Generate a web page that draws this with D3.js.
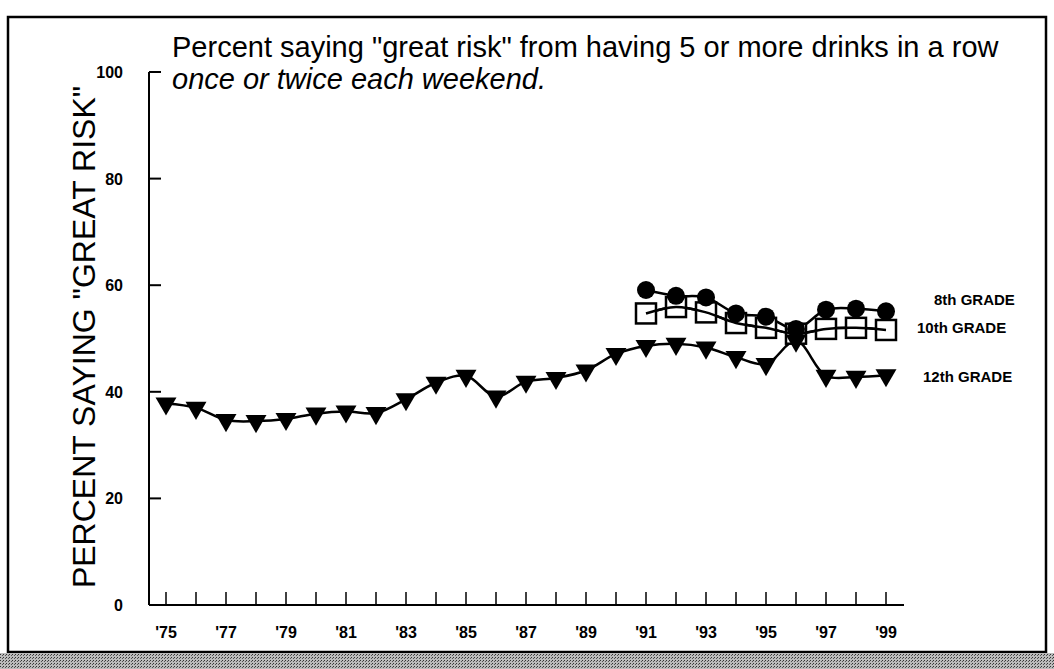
<!DOCTYPE html>
<html><head><meta charset="utf-8">
<script src="https://cdn.jsdelivr.net/npm/d3@7"></script>
<style>body{margin:0;background:#fff}svg{display:block}</style>
</head><body>
<script>
const years12 = d3.range(1975, 2000);
const grade12 = [37.8,37.0,34.7,34.5,34.9,35.9,36.3,36.0,38.6,41.7,43.0,39.1,41.9,42.6,44.0,47.1,48.6,49.0,48.3,46.5,45.2,49.6,43.0,42.8,43.1];
const yearsLate = d3.range(1991, 2000);
const grade8 = [59.1,58.0,57.7,54.7,54.1,51.8,55.4,55.6,55.1];
const grade10 = [54.7,55.9,54.9,52.9,52.0,50.9,51.8,52.0,51.6];
const yTicks = [0,20,40,60,80,100];
const xLabelYears = [1975,1977,1979,1981,1983,1985,1987,1989,1991,1993,1995,1997,1999];
const seriesLabels = ["8th GRADE","10th GRADE","12th GRADE"];
const titleLine1 = 'Percent saying "great risk" from having 5 or more drinks in a row';
const titleLine2 = 'once or twice each weekend.';
const yTitle = 'PERCENT SAYING "GREAT RISK"';

const W=1054,H=669;
const svg=d3.select("body").append("svg").attr("width",W).attr("height",H);
const font="'Liberation Sans', Arial, Helvetica, sans-serif";

// frame
svg.append("rect").attr("x",8).attr("y",17).attr("width",1038).attr("height",635)
  .attr("fill","none").attr("stroke","#000").attr("stroke-width",2.5);
const defs=svg.append("defs");
const pat=defs.append("pattern").attr("id","dith").attr("width",3).attr("height",3).attr("patternUnits","userSpaceOnUse");
pat.append("rect").attr("width",3).attr("height",3).attr("fill","#bbb");
pat.append("rect").attr("width",1).attr("height",1).attr("fill","#333");
pat.append("rect").attr("x",2).attr("y",1).attr("width",1).attr("height",1).attr("fill","#555");
svg.append("rect").attr("x",0).attr("y",653).attr("width",W).attr("height",16).attr("fill","url(#dith)");

const x=d3.scaleLinear().domain([1975,1999]).range([166,886]);
const y=d3.scaleLinear().domain([0,100]).range([605,72]);

// axes
const ax=svg.append("g").attr("stroke","#000").attr("stroke-width",2);
ax.append("line").attr("x1",149).attr("x2",149).attr("y1",y(100)).attr("y2",y(0));
ax.append("line").attr("x1",149).attr("x2",904).attr("y1",y(0)).attr("y2",y(0));
yTicks.forEach(t=>{
  ax.append("line").attr("x1",149).attr("x2",161).attr("y1",y(t)).attr("y2",y(t));
});
years12.forEach(t=>{
  ax.append("line").attr("x1",x(t)).attr("x2",x(t)).attr("y1",y(0)).attr("y2",y(0)-13).attr("stroke-width",1.5);
});
svg.selectAll(".yl").data(yTicks).enter().append("text")
  .attr("x",123).attr("y",d=>y(d)+6).attr("text-anchor","end")
  .attr("font-family",font).attr("font-size",16).attr("font-weight","bold").text(d=>d);
svg.selectAll(".xl").data(xLabelYears).enter().append("text")
  .attr("x",d=>x(d)).attr("y",638).attr("text-anchor","middle")
  .attr("font-family",font).attr("font-size",16).attr("font-weight","bold").text(d=>"'"+String(d).slice(2));

// titles
svg.append("text").attr("x",172).attr("y",57).attr("font-family",font).attr("font-size",29).text(titleLine1);
svg.append("text").attr("x",172).attr("y",89).attr("font-family",font).attr("font-size",29).attr("font-style","italic").text(titleLine2);
svg.append("text").attr("transform","translate(95,337) rotate(-90)").attr("text-anchor","middle")
  .attr("font-family",font).attr("font-size",32).text(yTitle);

const line=d3.line().x(d=>x(d[0])).y(d=>y(d[1])).curve(d3.curveCatmullRom.alpha(0.5));
const s12=years12.map((d,i)=>[d,grade12[i]]);
const s8=yearsLate.map((d,i)=>[d,grade8[i]]);
const s10=yearsLate.map((d,i)=>[d,grade10[i]]);

[s12,s10,s8].forEach(s=>svg.append("path").attr("d",line(s)).attr("fill","none").attr("stroke","#000").attr("stroke-width",2.5));

// markers
svg.selectAll(".sq").data(s10).enter().append("rect")
  .attr("x",d=>x(d[0])-10).attr("y",d=>y(d[1])-10).attr("width",20).attr("height",20)
  .attr("fill","#fff").attr("stroke","#000").attr("stroke-width",2.5);
svg.append("path").attr("d",line(s10)).attr("fill","none").attr("stroke","#000").attr("stroke-width",2.5);
svg.selectAll(".ci").data(s8).enter().append("circle")
  .attr("cx",d=>x(d[0])).attr("cy",d=>y(d[1])).attr("r",9).attr("fill","#000");
const tri=d3.symbol().type(d3.symbolTriangle).size(190);
svg.selectAll(".tr").data(s12).enter().append("path")
  .attr("d",tri).attr("transform",d=>`translate(${x(d[0])},${y(d[1])}) rotate(180)`).attr("fill","#000");

// series labels
const labPos=[[934,305],[917,333],[923,382]];
seriesLabels.forEach((l,i)=>svg.append("text").attr("x",labPos[i][0]).attr("y",labPos[i][1])
  .attr("font-family",font).attr("font-size",15).attr("font-weight","bold").text(l));
</script>
</body></html>
